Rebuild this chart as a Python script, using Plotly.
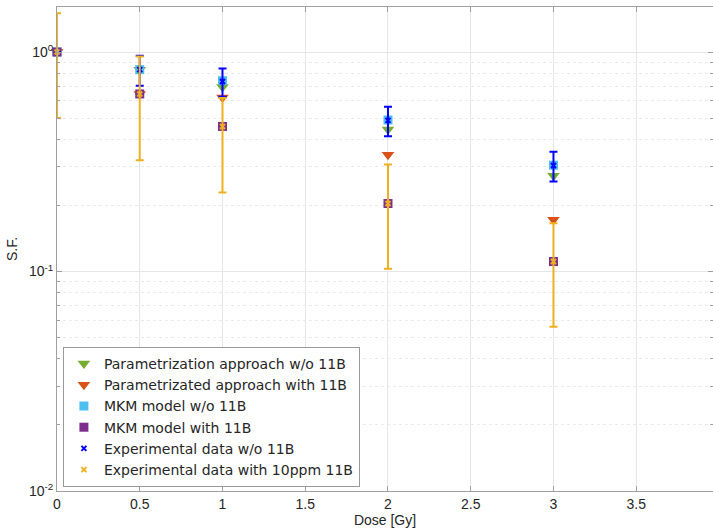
import plotly.graph_objects as go

dose = [0, 0.5, 1, 2, 3]
param_wo = [1.0, 0.83, 0.693, 0.443, 0.273]
param_with = [1.0, 0.644, 0.621, 0.340, 0.172]
mkm_wo = [1.0, 0.831, 0.74, 0.49, 0.305]
mkm_with = [1.0, 0.644, 0.458, 0.204, 0.111]
exp_wo = [1.0, 0.831, 0.734, 0.488, 0.304]
exp_wo_err = [0.0, 0.13, 0.108, 0.075, 0.047]
exp_with = [1.0, 0.644, 0.458, 0.204, 0.111]
exp_with_err_plus = [0.5, 0.31, 0.16, 0.103, 0.055]
exp_with_err_minus = [0.5, 0.323, 0.229, 0.101, 0.055]

x_ticks = [0, 0.5, 1, 1.5, 2, 2.5, 3, 3.5]
y_ticks = [0.01, 0.1, 1]
y_ticktext = ["10<sup>-2</sup>", "10<sup>-1</sup>", "10<sup>0</sup>"]
y_minor = [m * d for d in (0.01, 0.1, 1) for m in range(2, 10)]

fig = go.Figure()
fig.add_trace(go.Scatter(x=dose, y=param_wo, mode="markers", name="Parametrization approach w/o 11B",
                         cliponaxis=False,
                         marker=dict(symbol="triangle-down", size=11, color="#77AC30")))
fig.add_trace(go.Scatter(x=dose, y=param_with, mode="markers", name="Parametrizated approach with 11B",
                         cliponaxis=False,
                         marker=dict(symbol="triangle-down", size=11, color="#D95319")))
fig.add_trace(go.Scatter(x=dose, y=mkm_wo, mode="markers", name="MKM model w/o 11B",
                         cliponaxis=False,
                         marker=dict(symbol="square", size=9, color="#4DBEEE")))
fig.add_trace(go.Scatter(x=dose, y=mkm_with, mode="markers", name="MKM model with 11B",
                         cliponaxis=False,
                         marker=dict(symbol="square", size=9, color="#7E2F8E")))
fig.add_trace(go.Scatter(x=dose, y=exp_wo, mode="markers", name="Experimental data w/o 11B",
                         cliponaxis=False,
                         marker=dict(symbol="x-thin", size=5, color="#0000FF", line=dict(width=2, color="#0000FF")),
                         error_y=dict(type="data", array=exp_wo_err, color="#0000FF", thickness=2, width=4)))
fig.add_trace(go.Scatter(x=dose, y=exp_with, mode="markers", name="Experimental data with 10ppm 11B",
                         cliponaxis=False,
                         marker=dict(symbol="x-thin", size=5, color="#EDB120", line=dict(width=2, color="#EDB120")),
                         error_y=dict(type="data", symmetric=False, array=exp_with_err_plus,
                                      arrayminus=exp_with_err_minus, color="#EDB120", thickness=2, width=4)))

axis_font = dict(family="Liberation Sans, Arial, sans-serif", size=14, color="#262626")
fig.update_layout(
    width=713, height=532,
    margin=dict(l=57, r=0, t=7, b=41),
    paper_bgcolor="white", plot_bgcolor="white",
    font=axis_font,
    showlegend=True,
    legend=dict(x=0.009, y=0.2975, xanchor="left", yanchor="top",
                bgcolor="white", bordercolor="#999999", borderwidth=1,
                font=dict(family="DejaVu Sans, sans-serif", size=14, color="#262626"),
                tracegroupgap=0, itemwidth=30),
    xaxis=dict(range=[0, 3.964], tickvals=x_ticks, ticktext=[str(t) if t % 1 else str(int(t)) for t in x_ticks],
               showgrid=True, gridcolor="#E6E6E6", gridwidth=1,
               showline=True, linecolor="#A0A0A0", linewidth=1, mirror="ticks",
               ticks="inside", ticklen=5, tickcolor="#A0A0A0", zeroline=False,
               title=dict(text="Dose [Gy]", standoff=4, font=dict(size=14))),
    yaxis=dict(type="log", range=[-2, 0.205], tickvals=y_ticks, ticktext=y_ticktext,
               showgrid=True, gridcolor="#E6E6E6", gridwidth=1,
               showline=True, linecolor="#A0A0A0", linewidth=1, mirror="ticks",
               ticks="inside", ticklen=5, tickcolor="#A0A0A0", zeroline=False,
               minor=dict(tickvals=y_minor, showgrid=True, gridcolor="#EBEBEB", griddash="dot",
                          ticks="inside", ticklen=3, tickcolor="#A0A0A0"),
               title=dict(text="S.F.", standoff=8, font=dict(size=14))),
)

fig.write_html("out.html")
